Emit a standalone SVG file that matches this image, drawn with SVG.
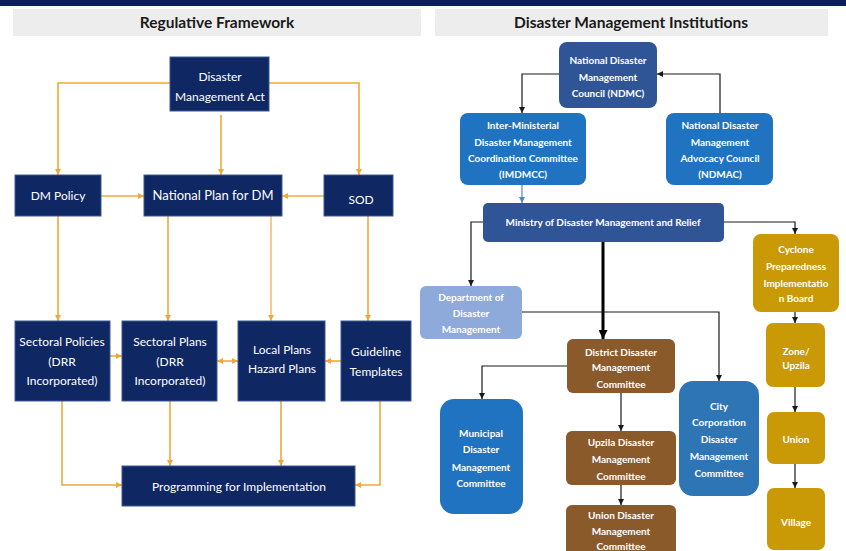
<svg xmlns="http://www.w3.org/2000/svg" width="846" height="551" viewBox="0 0 846 551">
<defs>
<marker id="ao" viewBox="0 0 10 10" refX="10" refY="5" markerWidth="6" markerHeight="6" markerUnits="userSpaceOnUse" orient="auto-start-reverse"><path d="M0,0 L10,5 L0,10 z" fill="#f0a838"/></marker>
<marker id="ab" viewBox="0 0 10 10" refX="10" refY="5" markerWidth="6" markerHeight="6" markerUnits="userSpaceOnUse" orient="auto"><path d="M0,0 L10,5 L0,10 z" fill="#1a1a1a"/></marker>
<marker id="abl" viewBox="0 0 10 10" refX="10" refY="5" markerWidth="6" markerHeight="6" markerUnits="userSpaceOnUse" orient="auto"><path d="M0,0 L10,5 L0,10 z" fill="#4f86c9"/></marker>
<marker id="abt" viewBox="0 0 10 10" refX="10" refY="5" markerWidth="9" markerHeight="9" markerUnits="userSpaceOnUse" orient="auto"><path d="M0,0 L10,5 L0,10 z" fill="#000"/></marker>
</defs>
<style>
.hdr{fill:#ededed}
.ht{font-family:Lato,"Liberation Sans",sans-serif;font-weight:700;font-size:15.5px;fill:#1a1a1a;text-anchor:middle}
.nb{fill:#0f2763;stroke:#3b5a96;stroke-width:1}
.lt{font-family:Lato,"Liberation Sans",sans-serif;font-size:12px;fill:#fff;text-anchor:middle}
.rt{font-family:Lato,"Liberation Sans",sans-serif;font-weight:700;font-size:10px;fill:#fff;text-anchor:middle}
.oc{fill:none;stroke:#f0a838;stroke-width:1.6;marker-end:url(#ao)}
.bc{fill:none;stroke:#1a1a1a;stroke-width:1.2;marker-end:url(#ab)}
.dkb{fill:#2f5597}
.brb{fill:#1f73c1}
.ltb{fill:#8eaadb}
.brn{fill:#8b5a2b}
.gld{fill:#c99a06}
</style>
<rect x="0" y="0" width="846" height="551" fill="#fff"/>
<rect x="0" y="0" width="846" height="6" fill="#0c1f5c"/>
<g id="header-left"><rect class="hdr" x="13" y="9" width="408" height="27"/><text class="ht" x="217" y="28">Regulative Framework</text></g>
<g id="header-right"><rect class="hdr" x="435" y="9" width="393" height="27"/><text class="ht" x="631" y="28">Disaster Management Institutions</text></g>

<g id="connectors">
<path class="oc" d="M170,83 H58 V175"/>
<path class="oc" d="M269,83 H359 V175"/>
<path class="oc" d="M221,115 V175"/>
<path class="oc" d="M101,196 H144"/>
<path class="oc" d="M324,196 H282"/>
<path class="oc" d="M58,216 V321"/>
<path class="oc" d="M168,216 V321"/>
<path class="oc" d="M271,216 V321" style="stroke-width:1.2"/>
<path class="oc" d="M368,216 V321"/>
<path class="oc" d="M110,356 H122"/>
<path class="oc" d="M217,361 H238" style="marker-start:url(#ao)"/>
<path class="oc" d="M341,361 H325"/>
<path class="oc" d="M62,401 V485 H122"/>
<path class="oc" d="M170,401 V466"/>
<path class="oc" d="M281,401 V466"/>
<path class="oc" d="M380,401 V485 H355"/>

<path class="bc" d="M559,74 H522 V113"/>
<path class="bc" d="M720,113 V74 H657"/>
<path d="M522,185 V203" fill="none" stroke="#4f86c9" stroke-width="1.2" marker-end="url(#abl)"/>
<path class="bc" d="M483,222 H471 V286"/>
<path class="bc" d="M724,222 H795 V234"/>
<path d="M603,242 V339" fill="none" stroke="#000" stroke-width="3" marker-end="url(#abt)"/>
<path class="bc" d="M522,312 H719 V381"/>
<path class="bc" d="M795,312 V323"/>
<path class="bc" d="M567,366 H482 V399"/>
<path class="bc" d="M621,393 V431"/>
<path class="bc" d="M621,485 V505"/>
<path class="bc" d="M795,387 V412"/>
<path class="bc" d="M795,464 V488"/>
</g>

<g id="dm-act"><rect class="nb" x="170" y="57" width="99" height="54"/><text class="lt" x="220" y="81">Disaster</text><text class="lt" x="220" y="101">Management Act</text></g>
<g id="dm-policy"><rect class="nb" x="15" y="175" width="86" height="41"/><text class="lt" x="58" y="200">DM Policy</text></g>
<g id="national-plan"><rect class="nb" x="144" y="175" width="138" height="41"/><text class="lt" x="213" y="200" style="font-size:13px">National Plan for DM</text></g>
<g id="sod"><rect class="nb" x="324" y="175" width="69" height="41"/><text class="lt" x="361" y="204">SOD</text></g>
<g id="sectoral-policies"><rect class="nb" x="15" y="321" width="95" height="80"/><text class="lt" x="62" y="346">Sectoral Policies</text><text class="lt" x="62" y="366">(DRR</text><text class="lt" x="62" y="385">Incorporated)</text></g>
<g id="sectoral-plans"><rect class="nb" x="122" y="321" width="95" height="80"/><text class="lt" x="170" y="346">Sectoral Plans</text><text class="lt" x="170" y="366">(DRR</text><text class="lt" x="170" y="385">Incorporated)</text></g>
<g id="local-plans"><rect class="nb" x="238" y="321" width="87" height="80"/><text class="lt" x="282" y="354">Local Plans</text><text class="lt" x="282" y="373">Hazard Plans</text></g>
<g id="guideline"><rect class="nb" x="341" y="321" width="70" height="80"/><text class="lt" x="376" y="356">Guideline</text><text class="lt" x="376" y="376">Templates</text></g>
<g id="programming"><rect class="nb" x="122" y="466" width="233" height="40"/><text class="lt" x="239" y="491">Programming for Implementation</text></g>

<g id="ndmc"><rect class="dkb" x="559" y="42" width="98" height="66" rx="8"/><text class="rt" x="608" y="64">National Disaster</text><text class="rt" x="608" y="81">Management</text><text class="rt" x="608" y="97">Council (NDMC)</text></g>
<g id="imdmcc"><rect class="brb" x="460" y="113" width="126" height="72" rx="8"/><text class="rt" x="523" y="129">Inter-Ministerial</text><text class="rt" x="523" y="146">Disaster Management</text><text class="rt" x="523" y="162">Coordination Committee</text><text class="rt" x="523" y="178">(IMDMCC)</text></g>
<g id="ndmac"><rect class="brb" x="666" y="113" width="107" height="72" rx="8"/><text class="rt" x="720" y="129">National Disaster</text><text class="rt" x="720" y="146">Management</text><text class="rt" x="720" y="162">Advocacy Council</text><text class="rt" x="720" y="178">(NDMAC)</text></g>
<g id="ministry"><rect class="dkb" x="483" y="203" width="241" height="39" rx="5"/><text class="rt" x="603" y="226">Ministry of Disaster Management and Relief</text></g>
<g id="department"><rect class="ltb" x="420" y="286" width="102" height="53" rx="6"/><text class="rt" x="471" y="301">Department of</text><text class="rt" x="471" y="317">Disaster</text><text class="rt" x="471" y="333">Management</text></g>
<g id="cpp"><rect class="gld" x="753" y="234" width="86" height="78" rx="8"/><text class="rt" x="796" y="253">Cyclone</text><text class="rt" x="796" y="270">Preparedness</text><text class="rt" x="796" y="287">Implementatio</text><text class="rt" x="796" y="302">n Board</text></g>
<g id="zone"><rect class="gld" x="766" y="323" width="59" height="64" rx="7"/><text class="rt" x="796" y="355">Zone/</text><text class="rt" x="796" y="369">Upzila</text></g>
<g id="union"><rect class="gld" x="767" y="412" width="58" height="52" rx="7"/><text class="rt" x="796" y="443">Union</text></g>
<g id="village"><rect class="gld" x="767" y="488" width="58" height="62" rx="7"/><text class="rt" x="796" y="526">Village</text></g>
<g id="district"><rect class="brn" x="567" y="339" width="108" height="54" rx="6"/><text class="rt" x="621" y="356">District Disaster</text><text class="rt" x="621" y="371">Management</text><text class="rt" x="621" y="388">Committee</text></g>
<g id="municipal"><rect class="brb" x="440" y="399" width="83" height="115" rx="14"/><text class="rt" x="481" y="437">Municipal</text><text class="rt" x="481" y="453">Disaster</text><text class="rt" x="481" y="471">Management</text><text class="rt" x="481" y="487">Committee</text></g>
<g id="upzila-dmc"><rect class="brn" x="566" y="431" width="110" height="54" rx="6"/><text class="rt" x="621" y="446">Upzila Disaster</text><text class="rt" x="621" y="463">Management</text><text class="rt" x="621" y="480">Committee</text></g>
<g id="union-dmc"><rect class="brn" x="566" y="505" width="110" height="60" rx="6"/><text class="rt" x="621" y="519">Union Disaster</text><text class="rt" x="621" y="535">Management</text><text class="rt" x="621" y="550">Committee</text></g>
<g id="city-corp"><rect fill="#2e75b6" x="679" y="381" width="80" height="115" rx="14"/><text class="rt" x="719" y="410">City</text><text class="rt" x="719" y="426">Corporation</text><text class="rt" x="719" y="443">Disaster</text><text class="rt" x="719" y="460">Management</text><text class="rt" x="719" y="477">Committee</text></g>
</svg>
